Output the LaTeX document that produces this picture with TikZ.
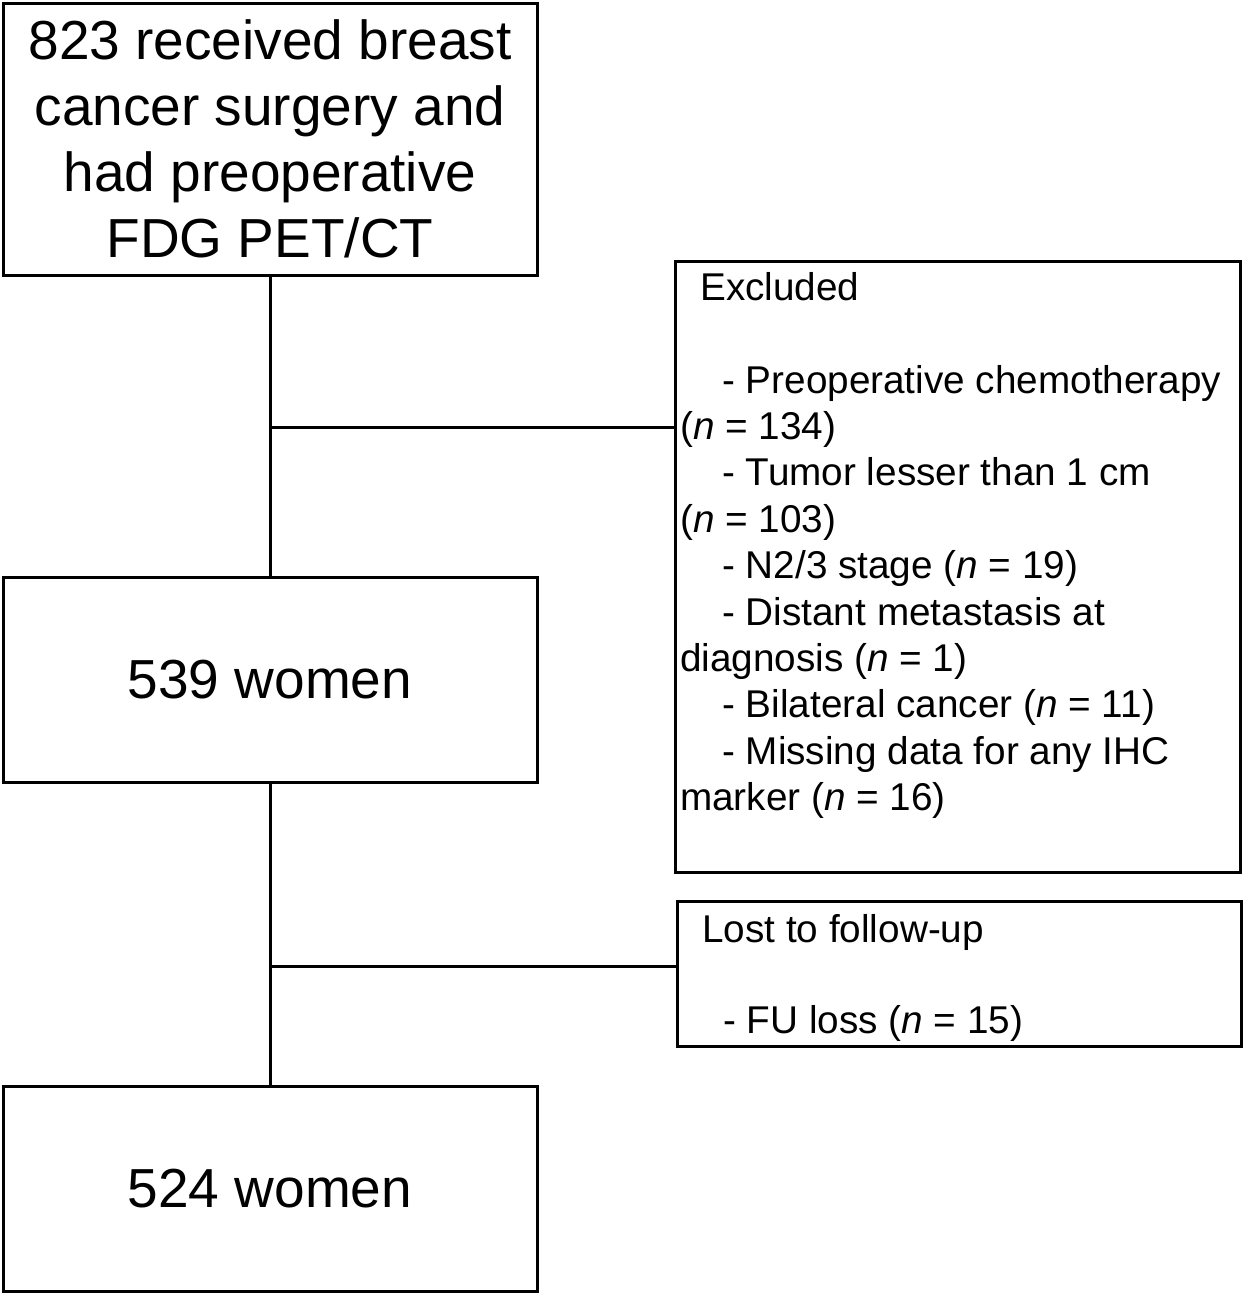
\documentclass[tikz,border=0pt]{standalone}
\usepackage{fontspec}
\setmainfont{Liberation Sans}
\begin{document}
\begin{tikzpicture}[x=1pt,y=-1pt,
  box/.style={draw=black, line width=3pt, rectangle, inner sep=0pt},
  bigtext/.style={font=\fontsize{55}{66}\selectfont, align=center},
  smalltext/.style={font=\fontsize{38.7}{46.4}\selectfont, align=left, inner sep=0pt, anchor=north west},
  link/.style={draw=black, line width=3pt}]
\useasboundingbox[fill=white] (0,0) rectangle (1244,1294);

\node[box, bigtext, minimum width=534pt, minimum height=272pt] (b1) at (270,139)
  {823 received breast\\cancer surgery and\\had preoperative\\FDG PET/CT};
\node[box, bigtext, minimum width=534pt, minimum height=205pt] (b2) at (270,679.5) {539 women};
\node[box, bigtext, minimum width=534pt, minimum height=205pt] (b3) at (270,1188.5) {524 women};

\node[box, minimum width=565pt, minimum height=611pt] (ex) at (957.5,566.5) {};
\node[box, minimum width=564pt, minimum height=145pt] (lost) at (959,973.5) {};

\node[smalltext] (exT) at (680,272)
  {\hspace*{20pt}Excluded\\[46.4pt]
   \hspace*{42pt}- Preoperative chemotherapy\\
   (\textit{n} = 134)\\
   \hspace*{42pt}- Tumor lesser than 1 cm\\
   (\textit{n} = 103)\\
   \hspace*{42pt}- N2/3 stage (\textit{n} = 19)\\
   \hspace*{42pt}- Distant metastasis at\\
   diagnosis (\textit{n} = 1)\\
   \hspace*{42pt}- Bilateral cancer (\textit{n} = 11)\\
   \hspace*{42pt}- Missing data for any IHC\\
   marker (\textit{n} = 16)};

\node[smalltext] (lostT) at (702,914)
  {Lost to follow-up\\[45pt]
   \hspace*{21pt}- FU loss (\textit{n} = 15)};

\coordinate (j1) at (270,427);
\coordinate (j2) at (270,966);
\draw[link] (b1.south) -- (b2.north);
\draw[link] (b2.south) -- (b3.north);
\draw[link] (j1) -- (j1 -| ex.west);
\draw[link] (j2) -- (j2 -| lost.west);
\end{tikzpicture}
\end{document}
